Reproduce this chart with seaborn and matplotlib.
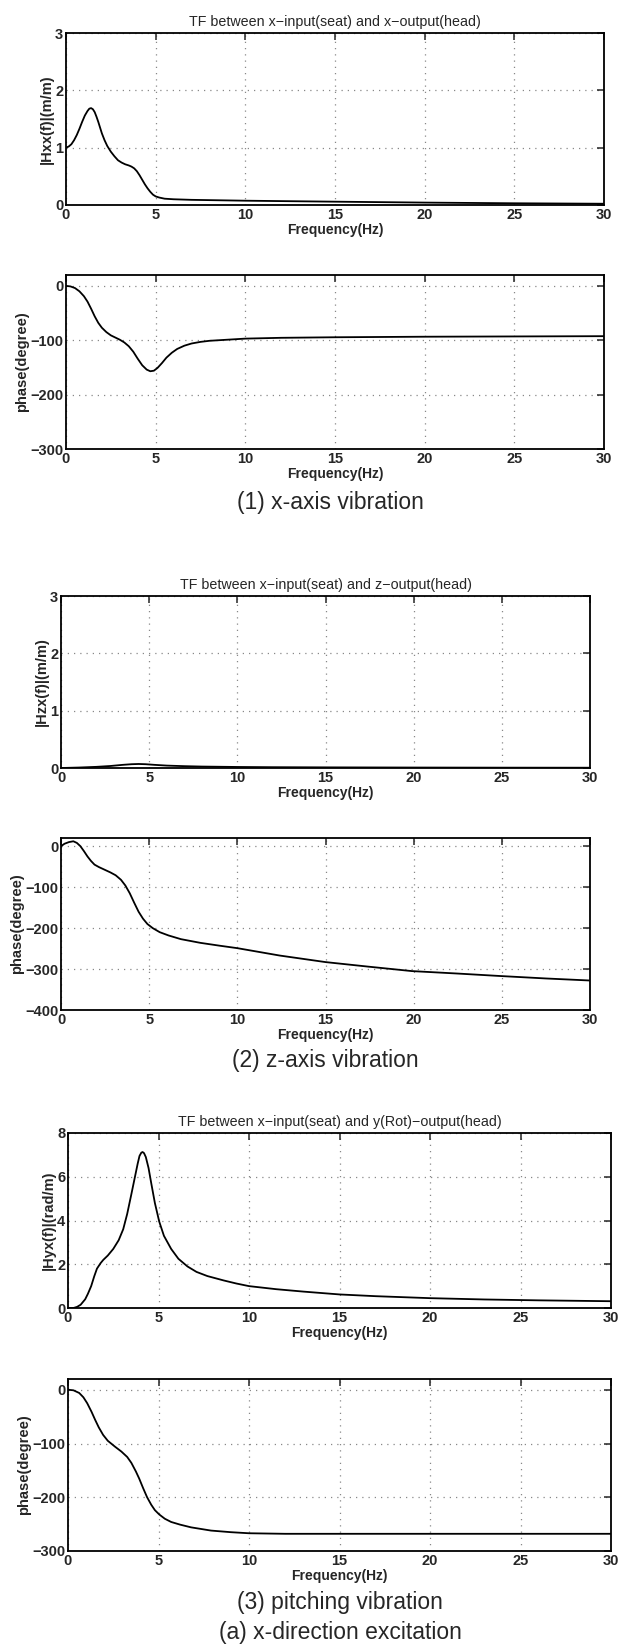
import numpy as np
import pandas as pd
import matplotlib
matplotlib.use("Agg")
import matplotlib.pyplot as plt
import seaborn as sns

# values
f_xx = [0, 0.15, 0.3, 0.45, 0.6, 0.75, 0.9, 1.05, 1.2, 1.3, 1.4, 1.5, 1.6, 1.7, 1.8, 1.9, 2.0, 2.15, 2.3, 2.5, 2.7, 2.9, 3.1, 3.3, 3.5, 3.65, 3.8, 3.95, 4.1, 4.25, 4.4, 4.55, 4.7, 4.85, 5.0, 5.2, 5.5, 6, 7, 8, 10, 12, 15, 20, 25, 30]
mag_xx = [1.0, 1.02, 1.06, 1.13, 1.22, 1.33, 1.45, 1.56, 1.64, 1.68, 1.69, 1.67, 1.62, 1.54, 1.45, 1.35, 1.25, 1.13, 1.03, 0.93, 0.85, 0.78, 0.74, 0.71, 0.69, 0.67, 0.64, 0.59, 0.52, 0.44, 0.36, 0.29, 0.23, 0.18, 0.15, 0.13, 0.11, 0.1, 0.09, 0.085, 0.075, 0.068, 0.058, 0.042, 0.03, 0.022]

f_pxx = [0, 0.25, 0.5, 0.75, 1.0, 1.2, 1.4, 1.6, 1.8, 2.0, 2.25, 2.5, 2.75, 3.0, 3.25, 3.5, 3.75, 4.0, 4.25, 4.5, 4.7, 4.9, 5.1, 5.35, 5.6, 5.9, 6.2, 6.6, 7.0, 7.5, 8, 9, 10, 12, 15, 20, 25, 30]
ph_xx = [0, -1, -4, -10, -19, -29, -42, -56, -68, -77, -85, -91, -95, -99, -104, -111, -121, -134, -146, -154, -157, -156, -151, -142, -132, -123, -116, -110, -106, -103, -101, -99, -97, -95.5, -94.5, -93.5, -93, -92.5]

f_zx = [0, 1, 2, 2.8, 3.5, 4.0, 4.4, 4.8, 5.3, 6, 7, 8, 10, 12, 15, 20, 25, 30]
mag_zx = [0.0, 0.008, 0.02, 0.035, 0.055, 0.066, 0.07, 0.066, 0.055, 0.042, 0.032, 0.025, 0.018, 0.014, 0.011, 0.008, 0.006, 0.005]

f_pzx = [0, 0.2, 0.45, 0.7, 0.9, 1.1, 1.3, 1.5, 1.7, 1.9, 2.15, 2.45, 2.8, 3.1, 3.4, 3.65, 3.9, 4.15, 4.4, 4.65, 4.9, 5.2, 5.6, 6.1, 6.8, 7.9, 9, 10, 11.2, 12.4, 13.7, 15, 17.4, 19.9, 22.5, 24.9, 27.5, 30]
ph_zx = [0, 6, 10, 12, 8, 0, -12, -25, -36, -45, -51, -57, -64, -71, -82, -96, -115, -138, -160, -177, -190, -200, -210, -218, -227, -236, -243, -249, -258, -267, -275, -283, -294, -305, -311, -317, -323, -328]

f_yx = [0, 0.3, 0.5, 0.7, 0.95, 1.1, 1.28, 1.45, 1.6, 1.8, 1.95, 2.2, 2.5, 2.8, 3.05, 3.27, 3.5, 3.7, 3.85, 3.95, 4.05, 4.12, 4.2, 4.3, 4.45, 4.6, 4.8, 5.04, 5.3, 5.7, 6.1, 6.6, 7.1, 7.7, 8.6, 9.3, 10, 11.5, 13, 15, 17, 20, 23, 26, 30]
mag_yx = [0, 0.0, 0.05, 0.15, 0.4, 0.65, 1.0, 1.45, 1.8, 2.05, 2.2, 2.4, 2.7, 3.1, 3.6, 4.3, 5.2, 6.0, 6.6, 6.95, 7.1, 7.13, 7.08, 6.9, 6.4, 5.7, 4.8, 3.95, 3.3, 2.7, 2.25, 1.9, 1.65, 1.46, 1.26, 1.12, 1.0, 0.86, 0.75, 0.62, 0.54, 0.45, 0.39, 0.35, 0.31]

f_pyx = [0, 0.3, 0.62, 0.85, 1.06, 1.3, 1.5, 1.7, 1.94, 2.2, 2.6, 2.95, 3.27, 3.5, 3.75, 3.93, 4.15, 4.37, 4.6, 4.8, 5.04, 5.35, 5.7, 6.2, 6.8, 7.9, 9, 10, 12, 15, 30]
ph_yx = [0, -1, -6, -14, -25, -41, -56, -70, -84, -95, -106, -115, -125, -136, -152, -165, -183, -200, -214, -224, -232, -240, -246, -251, -256, -262, -265, -267, -268, -268, -268]

sns.set_style("white")
plt.rcParams['font.family'] = ['Liberation Sans', 'DejaVu Sans']

fig = plt.figure(figsize=(6.26, 16.48), dpi=100)
W, H = 626, 1648


def panel(L, R, T, B):
    return fig.add_axes([L / W, 1 - B / H, (R - L) / W, (B - T) / H])


panels = [
    (66, 604, 33, 205, f_xx, mag_xx, (0, 3), [0, 1, 2, 3], '|Hxx(f)|(m/m)', 'TF between x\u2212input(seat) and x\u2212output(head)'),
    (66, 604, 275, 449, f_pxx, ph_xx, (-300, 20), [-300, -200, -100, 0], 'phase(degree)', None),
    (61, 590, 596, 768, f_zx, mag_zx, (0, 3), [0, 1, 2, 3], '|Hzx(f)|(m/m)', 'TF between x\u2212input(seat) and z\u2212output(head)'),
    (61, 590, 838, 1010, f_pzx, ph_zx, (-400, 20), [-400, -300, -200, -100, 0], 'phase(degree)', None),
    (68, 611, 1133, 1308, f_yx, mag_yx, (0, 8), [0, 2, 4, 6, 8], '|Hyx(f)|(rad/m)', 'TF between x\u2212input(seat) and y(Rot)\u2212output(head)'),
    (68, 611, 1379, 1551, f_pyx, ph_yx, (-300, 20), [-300, -200, -100, 0], 'phase(degree)', None),
]

for L, R, T, B, fx, vals, ylim, yt, ylab, title in panels:
    ax = panel(L, R, T, B)
    df = pd.DataFrame({'f': fx, 'v': vals})
    sns.lineplot(data=df, x='f', y='v', ax=ax, color='black', linewidth=1.3)
    ax.set_xlim(0, 30)
    ax.set_ylim(*ylim)
    ax.set_xticks([0, 5, 10, 15, 20, 25, 30])
    ax.set_yticks(yt)
    ax.grid(True, linestyle=(0, (1, 4)), color='#888888', linewidth=0.9)
    ax.tick_params(direction='in', top=True, right=True, length=5, width=1.1, labelsize=10.5, pad=2)
    for lbl in ax.get_xticklabels() + ax.get_yticklabels():
        lbl.set_fontweight('bold')
    for s in ax.spines.values():
        s.set_color('black')
        s.set_linewidth(1.3)
    ax.set_xlabel('Frequency(Hz)', fontsize=10, fontweight='bold', labelpad=1)
    ax.set_ylabel(ylab, fontsize=10.5, fontweight='bold', labelpad=1)
    if title:
        ax.set_title(title, fontsize=10.3, pad=5)

cap = dict(ha='center', va='center', fontsize=16.5, family=['Liberation Sans Narrow', 'Liberation Sans'])
fig.text(330 / W, 1 - 503 / H, '(1) x-axis vibration', **cap)
fig.text(325 / W, 1 - 1060 / H, '(2) z-axis vibration', **cap)
fig.text(340 / W, 1 - 1603 / H, '(3) pitching vibration', **cap)
fig.text(340 / W, 1 - 1633 / H, '(a) x-direction excitation', **cap)

fig.savefig('out.png', dpi=100, facecolor='white')
